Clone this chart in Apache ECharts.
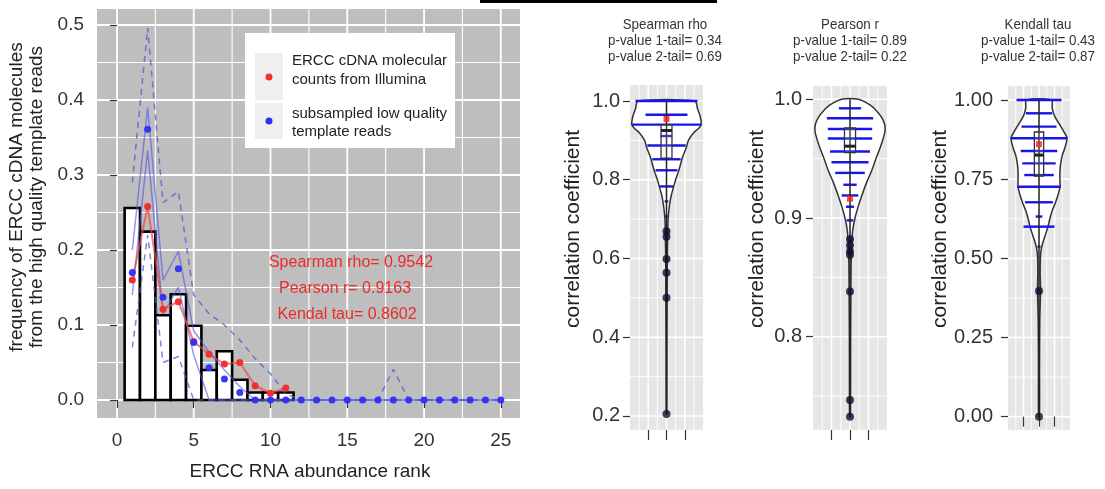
<!DOCTYPE html>
<html><head><meta charset="utf-8">
<script src="https://cdn.jsdelivr.net/npm/echarts@6/dist/echarts.min.js"></script>
<style>html,body{margin:0;padding:0;background:#fff}#c{width:1105px;height:489px}</style>
</head><body><div id="c"></div>
<script>
// ---------------- Left panel data ----------------
const ranks = [1,2,3,4,5,6,7,8,9,10,11,12,13,14,15,16,17,18,19,20,21,22,23,24,25];
const barRanks = [1,2,3,4,5,6,7,8,9,10,11];
const barValues = [0.256,0.2245,0.113,0.141,0.099,0.040,0.065,0.027,0.010,0.010,0.010];
const illuminaValues = [0.160,0.258,0.121,0.131,0.078,0.061,0.048,0.050,0.019,0.009,0.016];
const subsampledValues = [0.170,0.361,0.137,0.175,0.0765,0.043,0.028,0.010,0,0,0,0,0,0,0,0,0,0,0,0,0,0,0,0,0];
const upperSolid = [0.200,0.390,0.160,0.198,0.092,0.064,0.040,0.018,0,0,0,0,0,0,0,0,0,0,0,0,0,0,0,0,0];
const lowerSolid = [0.140,0.333,0.115,0.150,0.060,0.000,0,0,0,0,0,0,0,0,0,0,0,0,0,0,0,0,0,0,0];
const upperDashed = [0.290,0.496,0.263,0.278,0.140,0.115,0.100,0.080,0.055,0.035,0.008,0,0,0,0,0,0,0.041,0,0,0,0,0,0,0];
const lowerDashed = [0.070,0.220,0.050,0.058,0,0,0,0,0,0,0,0,0,0,0,0,0,0,0,0,0,0,0,0,0];
const xTickValues = [0,5,10,15,20,25];
const xMinorValues = [2.5,7.5,12.5,17.5,22.5];
const yTickValues = [0,0.1,0.2,0.3,0.4,0.5];
const yMinorValues = [0.05,0.15,0.25,0.35,0.45];
const correlationTexts = ['Spearman rho= 0.9542','Pearson r= 0.9163','Kendal tau= 0.8602'];
const legendTexts = [['ERCC cDNA molecular','counts from Illumina'],['subsampled low quality','template reads']];

// ---------------- Violin panels data ----------------
const spearmanTitle = ['Spearman rho','p-value 1-tail= 0.34','p-value 2-tail= 0.69'];
const spearmanTicks = [0.2,0.4,0.6,0.8,1.0];
const spearmanMinor = [0.3,0.5,0.7,0.9];
const spearmanViolinY = [1.00,0.98,0.96,0.94,0.93,0.92,0.90,0.88,0.86,0.84,0.82,0.80,0.78,0.76,0.74,0.72,0.70,0.66,0.60,0.50,0.35,0.205];
const spearmanViolinW = [0.31,0.34,0.37,0.38,0.35,0.30,0.24,0.215,0.18,0.155,0.13,0.10,0.075,0.052,0.036,0.025,0.017,0.013,0.009,0.007,0.004,0.003];
const spearmanLineY = [1.0,0.965,0.94,0.911,0.887,0.852,0.824,0.783,0.745,0.707];
const spearmanLineW = [0.34,0.23,0.38,0.064,0.21,0.155,0.12,0.073,0.02,0.015];
const spearmanBox = [0.855,0.925,0.94];
const spearmanOutliers = [0.669,0.655,0.599,0.564,0.50,0.205];
const spearmanRange = [0.205,1.0];
const spearmanObserved = 0.9542;

const pearsonTitle = ['Pearson r','p-value 1-tail= 0.89','p-value 2-tail= 0.22'];
const pearsonTicks = [0.8,0.9,1.0];
const pearsonMinor = [0.75,0.85,0.95];
const pearsonViolinY = [1.0,0.995,0.99,0.985,0.98,0.975,0.97,0.96,0.95,0.94,0.93,0.92,0.91,0.90,0.89,0.88,0.87,0.86,0.84,0.80,0.75,0.7326];
const pearsonViolinW = [0.09,0.22,0.29,0.34,0.37,0.38,0.37,0.33,0.28,0.235,0.18,0.133,0.09,0.054,0.03,0.02,0.016,0.012,0.01,0.007,0.006,0.004];
const pearsonLineY = [0.9924,0.984,0.975,0.967,0.956,0.947,0.938,0.928,0.919,0.9095,0.898,0.881,0.874];
const pearsonLineW = [0.12,0.25,0.24,0.24,0.216,0.2,0.16,0.072,0.09,0.043,0.036,0.02,0.02];
const pearsonBox = [0.955,0.9605,0.976];
const pearsonOutliers = [0.882,0.877,0.872,0.869,0.838,0.7467,0.7326];
const pearsonRange = [0.7326,1.0];
const pearsonObserved = 0.9163;

const kendallTitle = ['Kendall tau','p-value 1-tail= 0.43','p-value 2-tail= 0.87'];
const kendallTicks = [0,0.25,0.5,0.75,1.0];
const kendallMinor = [0.125,0.375,0.625,0.875];
const kendallViolinY = [1.0,0.975,0.95,0.925,0.90,0.88,0.85,0.825,0.80,0.775,0.75,0.725,0.70,0.675,0.65,0.625,0.60,0.575,0.55,0.525,0.50,0.45,0.40,0.30,0.15,0.0];
const kendallViolinW = [0.16,0.17,0.20,0.26,0.32,0.36,0.335,0.30,0.28,0.27,0.27,0.27,0.245,0.21,0.17,0.14,0.116,0.084,0.05,0.026,0.018,0.015,0.02,0.01,0.007,0.006];
const kendallLineY = [1.0,0.958,0.916,0.879,0.839,0.80,0.763,0.726,0.677,0.632,0.60,0.537];
const kendallLineW = [0.29,0.17,0.226,0.366,0.236,0.215,0.19,0.28,0.18,0.043,0.2,0.02];
const kendallBox = [0.76,0.826,0.899];
const kendallOutliers = [0.397,0.0];
const kendallRange = [0.0,1.0];
const kendallObserved = 0.8602;

const violinXTicks = [0.8,1.0,1.2];
const violinXMinor = [0.7,0.9,1.1,1.3];

// ---------------- build ----------------
const FONT = "'Liberation Sans', Arial, Helvetica, sans-serif";
const chart = echarts.init(document.getElementById('c'));

function gridData(xMaj, xMin, yMaj, yMin, x0, y0) {
  const a = [];
  xMaj.forEach(v => a.push([v, y0, 0, 1]));
  xMin.forEach(v => a.push([v, y0, 0, 0]));
  yMaj.forEach(v => a.push([x0, v, 1, 1]));
  yMin.forEach(v => a.push([x0, v, 1, 0]));
  return a;
}
function gridRender(majW, minW) {
  return function (params, api) {
    const cs = params.coordSys;
    const p = api.coord([api.value(0), api.value(1)]);
    const o = api.value(2), m = api.value(3);
    const shape = o === 0
      ? {x1: p[0], y1: cs.y, x2: p[0], y2: cs.y + cs.height}
      : {x1: cs.x, y1: p[1], x2: cs.x + cs.width, y2: p[1]};
    return {type: 'line', shape, style: {stroke: '#ffffff', lineWidth: m ? majW : minW}};
  };
}

const grids = [
  {left: 97, top: 9, width: 423, height: 409},
  {left: 630, top: 85, width: 73, height: 345},
  {left: 813, top: 86, width: 74, height: 344},
  {left: 1008, top: 86, width: 62, height: 344}
].map(g => Object.assign({show: true, backgroundColor: '#bebebe', borderWidth: 0, containLabel: false}, g));
grids[1].backgroundColor = grids[2].backgroundColor = grids[3].backgroundColor = '#e6e6e6';

const labelStyle = {color: '#333', fontFamily: FONT};
const xAxes = [
  {gridIndex: 0, type: 'value', min: -1.3, max: 26.25,
   axisLine: {show: false}, splitLine: {show: false},
   axisTick: {show: true, length: 8, customValues: xTickValues, lineStyle: {color: '#333', width: 1.2}},
   axisLabel: Object.assign({customValues: xTickValues, fontSize: 19, margin: 13}, labelStyle)}
];
const yAxes = [
  {gridIndex: 0, type: 'value', min: -0.024, max: 0.5213,
   axisLine: {show: false}, splitLine: {show: false},
   axisTick: {show: true, length: 7, customValues: yTickValues, lineStyle: {color: '#333', width: 1.2}},
   axisLabel: Object.assign({customValues: yTickValues, fontSize: 19, margin: 13, formatter: v => v.toFixed(1)}, labelStyle)}
];

const violinCfg = [
  {title: spearmanTitle, ticks: spearmanTicks, minor: spearmanMinor, min: 0.1644, max: 1.0406, dec: 1, margin: 10,
   vy: spearmanViolinY, vw: spearmanViolinW, ly: spearmanLineY, lw: spearmanLineW, box: spearmanBox,
   out: spearmanOutliers, range: spearmanRange, obs: spearmanObserved, cx: 665, nameX: 573},
  {title: pearsonTitle, ticks: pearsonTicks, minor: pearsonMinor, min: 0.7214, max: 1.0112, dec: 1, margin: 11,
   vy: pearsonViolinY, vw: pearsonViolinW, ly: pearsonLineY, lw: pearsonLineW, box: pearsonBox,
   out: pearsonOutliers, range: pearsonRange, obs: pearsonObserved, cx: 850, nameX: 757},
  {title: kendallTitle, ticks: kendallTicks, minor: kendallMinor, min: -0.0421, max: 1.0442, dec: 2, margin: 15,
   vy: kendallViolinY, vw: kendallViolinW, ly: kendallLineY, lw: kendallLineW, box: kendallBox,
   out: kendallOutliers, range: kendallRange, obs: kendallObserved, cx: 1038, nameX: 940}
];

const series = [];
// left panel
series.push({type: 'custom', xAxisIndex: 0, yAxisIndex: 0, z: 0, silent: true,
  renderItem: gridRender(1.8, 1.1),
  data: gridData(xTickValues, xMinorValues, yTickValues, yMinorValues, -1.3, -0.024)});
series.push({type: 'custom', xAxisIndex: 0, yAxisIndex: 0, z: 1, silent: true,
  renderItem: function (params, api) {
    const x = api.value(0), y = api.value(1);
    const p0 = api.coord([x - 0.5, y]), p1 = api.coord([x + 0.5, 0]);
    return {type: 'rect', shape: {x: p0[0], y: p0[1], width: p1[0] - p0[0], height: p1[1] - p0[1]},
      style: {fill: '#ffffff', stroke: '#000000', lineWidth: 2.6}};
  },
  data: barRanks.map((r, i) => [r, barValues[i]])});
function bandLine(vals, dashed, color) {
  return {type: 'line', xAxisIndex: 0, yAxisIndex: 0, z: 2, silent: true, showSymbol: false, symbol: 'none',
    data: ranks.map((r, i) => [r, vals[i]]),
    lineStyle: {color: color, width: 1.5, type: dashed ? [6, 5] : 'solid'}};
}
series.push(bandLine(upperDashed, true, 'rgba(85,85,210,0.75)'));
series.push(bandLine(lowerDashed, true, 'rgba(85,85,210,0.75)'));
series.push(bandLine(upperSolid, false, 'rgba(80,80,235,0.6)'));
series.push(bandLine(lowerSolid, false, 'rgba(80,80,235,0.6)'));
series.push({type: 'line', xAxisIndex: 0, yAxisIndex: 0, z: 3, silent: true,
  data: barRanks.map((r, i) => [r, illuminaValues[i]]),
  symbol: 'circle', symbolSize: 7, itemStyle: {color: '#f23030'},
  lineStyle: {color: 'rgba(240,70,70,0.7)', width: 2}});
series.push({type: 'scatter', xAxisIndex: 0, yAxisIndex: 0, z: 4, silent: true,
  data: ranks.map((r, i) => [r, subsampledValues[i]]),
  symbol: 'circle', symbolSize: 7, itemStyle: {color: '#2f2ff2', opacity: 0.95}});

// violin panels
violinCfg.forEach((c, k) => {
  const gi = k + 1;
  xAxes.push({gridIndex: gi, type: 'value', min: 0.6, max: 1.4,
    axisLine: {show: false}, splitLine: {show: false},
    axisTick: {show: true, length: 10, customValues: violinXTicks, lineStyle: {color: '#333', width: 1.2}},
    axisLabel: {show: false}});
  yAxes.push({gridIndex: gi, type: 'value', min: c.min, max: c.max,
    axisLine: {show: false}, splitLine: {show: false},
    axisTick: {show: true, length: 7, customValues: c.ticks, lineStyle: {color: '#333', width: 1.2}},
    axisLabel: Object.assign({customValues: c.ticks, fontSize: 20, margin: c.margin, formatter: v => v.toFixed(c.dec)}, labelStyle)});
  series.push({type: 'custom', xAxisIndex: gi, yAxisIndex: gi, z: 0, silent: true,
    renderItem: gridRender(1.6, 0.9),
    data: gridData(violinXTicks, violinXMinor, c.ticks, c.minor, 0.6, c.min)});
  // violin outline
  series.push({type: 'custom', xAxisIndex: gi, yAxisIndex: gi, z: 1, silent: true,
    renderItem: function (params, api) {
      const pts = [];
      for (let i = 0; i < c.vy.length; i++) pts.push(api.coord([1 - c.vw[i], c.vy[i]]));
      for (let i = c.vy.length - 1; i >= 0; i--) pts.push(api.coord([1 + c.vw[i], c.vy[i]]));
      return {type: 'polygon', shape: {points: pts, smooth: 0.3}, style: {fill: '#ffffff', stroke: '#333333', lineWidth: 1.5}};
    },
    data: [[1, c.vy[0]]]});
  // bean lines
  series.push({type: 'custom', xAxisIndex: gi, yAxisIndex: gi, z: 2, silent: true,
    renderItem: function (params, api) {
      const y = api.value(1), w = api.value(2);
      const a = api.coord([1 - w, y]), b = api.coord([1 + w, y]);
      return {type: 'line', shape: {x1: a[0], y1: a[1], x2: b[0], y2: b[1]}, style: {stroke: '#1616e8', lineWidth: 2.4}};
    },
    data: c.ly.map((y, i) => [1, y, c.lw[i]])});
  // box + whisker line
  series.push({type: 'custom', xAxisIndex: gi, yAxisIndex: gi, z: 3, silent: true,
    renderItem: function (params, api) {
      const q1 = api.value(1), med = api.value(2), q3 = api.value(3), lo = api.value(4), hi = api.value(5);
      const hw = 0.06;
      const tl = api.coord([1 - hw, q3]), br = api.coord([1 + hw, q1]);
      const ml = api.coord([1 - hw, med]), mr = api.coord([1 + hw, med]);
      const top = api.coord([1, hi]), bot = api.coord([1, lo]);
      return {type: 'group', children: [
        {type: 'line', shape: {x1: top[0], y1: top[1], x2: bot[0], y2: bot[1]}, style: {stroke: '#222', lineWidth: 1.5}},
        {type: 'rect', shape: {x: tl[0], y: tl[1], width: br[0] - tl[0], height: br[1] - tl[1]}, style: {fill: 'rgba(255,255,255,0.15)', stroke: '#333', lineWidth: 1.3}},
        {type: 'line', shape: {x1: ml[0], y1: ml[1], x2: mr[0], y2: mr[1]}, style: {stroke: '#222', lineWidth: 3}}
      ]};
    },
    data: [[1, c.box[0], c.box[1], c.box[2], c.range[0], c.range[1]]]});
  series.push({type: 'scatter', xAxisIndex: gi, yAxisIndex: gi, z: 4, silent: true,
    data: c.out.map(v => [1, v]), symbol: 'circle', symbolSize: 8,
    itemStyle: {color: '#10102e'}});
  series.push({type: 'scatter', xAxisIndex: gi, yAxisIndex: gi, z: 5, silent: true,
    data: [[1, c.obs]], symbol: 'rect', symbolSize: 6, itemStyle: {color: '#ff1a1a'}});
});

// ---------------- texts / legend ----------------
const graphic = [];
graphic.push({type: 'rect', z: 100, shape: {x: 480, y: 0, width: 237, height: 3}, style: {fill: '#000'}});
function txt(text, x, y, size, color, rot, align, sx) {
  return {type: 'text', x: x, y: y, z: 110, rotation: rot || 0, scaleX: sx || 1, silent: true,
    style: {text: text, fill: color, font: size + 'px ' + FONT, align: align || 'center', verticalAlign: 'middle'}};
}
// left axis titles
graphic.push(txt('frequency of ERCC cDNA molecules', 17, 197, 19, '#222', Math.PI / 2));
graphic.push(txt('from the high quality template reads', 37, 197, 19, '#222', Math.PI / 2));
graphic.push(txt('ERCC RNA abundance rank', 310, 472, 19, '#222'));
// legend
graphic.push({type: 'rect', z: 100, shape: {x: 245, y: 33, width: 210, height: 115}, style: {fill: '#ffffff'}});
graphic.push({type: 'rect', z: 101, shape: {x: 255, y: 53, width: 28, height: 47}, style: {fill: '#efefef'}});
graphic.push({type: 'rect', z: 101, shape: {x: 255, y: 103, width: 28, height: 36}, style: {fill: '#efefef'}});
graphic.push({type: 'circle', z: 102, shape: {cx: 269, cy: 77, r: 3.5}, style: {fill: '#f23030'}});
graphic.push({type: 'circle', z: 102, shape: {cx: 269, cy: 121, r: 3.5}, style: {fill: '#2f2ff2'}});
graphic.push(txt(legendTexts[0][0], 292, 61, 15, '#222', 0, 'left'));
graphic.push(txt(legendTexts[0][1], 292, 80, 15, '#222', 0, 'left'));
graphic.push(txt(legendTexts[1][0], 292, 114, 15, '#222', 0, 'left'));
graphic.push(txt(legendTexts[1][1], 292, 132, 15, '#222', 0, 'left'));
// correlation annotations
graphic.push(txt(correlationTexts[0], 351, 263, 16, '#ec2a2a'));
graphic.push(txt(correlationTexts[1], 345, 289, 16, '#ec2a2a'));
graphic.push(txt(correlationTexts[2], 347, 315, 16, '#ec2a2a'));
// violin titles and axis names
violinCfg.forEach(c => {
  graphic.push(txt(c.title[0], c.cx, 25, 15, '#333', 0, 'center', 0.89));
  graphic.push(txt(c.title[1], c.cx, 41, 15, '#333', 0, 'center', 0.89));
  graphic.push(txt(c.title[2], c.cx, 57, 15, '#333', 0, 'center', 0.89));
  graphic.push(txt('correlation coefficient', c.nameX, 229, 21, '#222', Math.PI / 2));
});

chart.setOption({
  animation: false,
  backgroundColor: '#ffffff',
  grid: grids,
  xAxis: xAxes,
  yAxis: yAxes,
  series: series,
  graphic: graphic
});
</script>
</body></html>
